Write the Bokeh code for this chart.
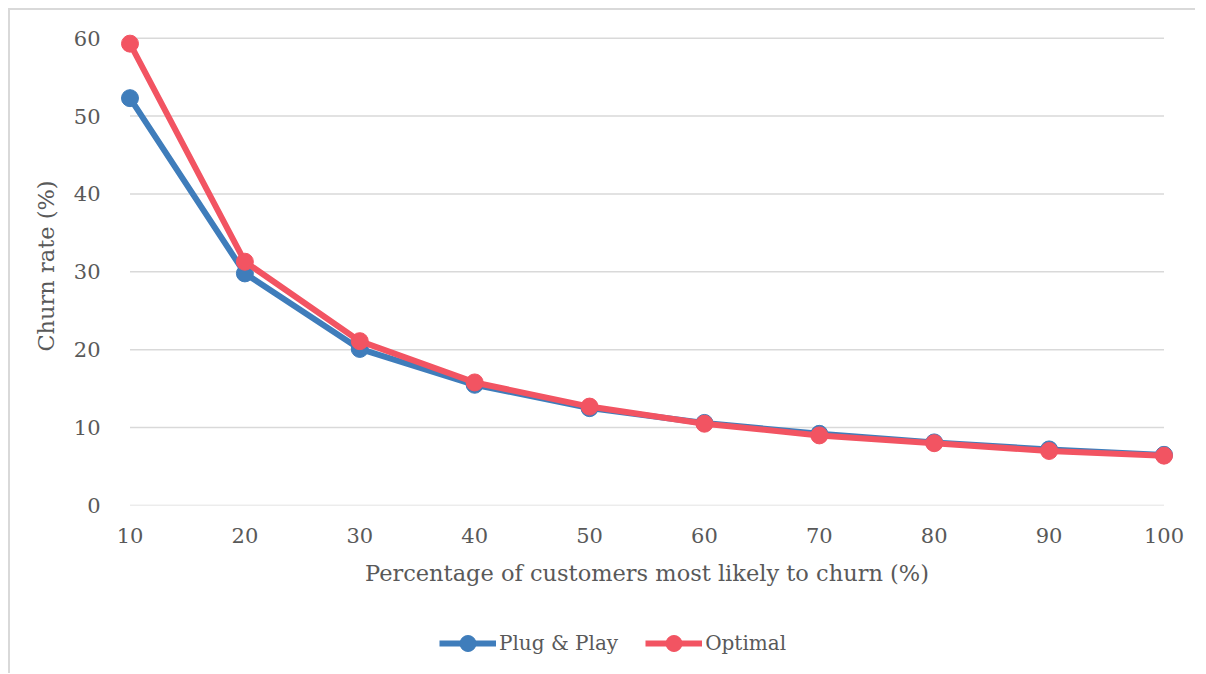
from bokeh.plotting import figure
from bokeh.models import Legend, FixedTicker, Range1d, ColumnDataSource
from bokeh.layouts import column
from bokeh.embed import file_html
from bokeh.resources import INLINE

x_pct = [10, 20, 30, 40, 50, 60, 70, 80, 90, 100]
plug_play = [52.3, 29.8, 20.1, 15.5, 12.5, 10.6, 9.2, 8.1, 7.2, 6.5]
optimal = [59.3, 31.3, 21.1, 15.8, 12.7, 10.5, 9.0, 8.0, 7.0, 6.4]
series_names = ["Plug & Play", "Optimal"]
y_ticks = [0, 10, 20, 30, 40, 50, 60]
x_ticks = [10, 20, 30, 40, 50, 60, 70, 80, 90, 100]

BLUE = "#3F7DBB"
RED = "#F25462"
GRID = "#D9D9D9"
TEXT = "#595959"
FONT = "DejaVu Serif"

p = figure(frame_width=1057, frame_height=479, min_border_left=108, min_border_top=16,
           min_border_right=20, min_border_bottom=100,
           x_range=Range1d(9, 101), y_range=Range1d(0, 61.5),
           output_backend="svg", toolbar_location=None)
p.outline_line_color = None
p.xgrid.visible = False
p.ygrid.visible = False

# gridlines limited to the data extent
gsrc = ColumnDataSource(dict(x0=[x_ticks[0]] * len(y_ticks), x1=[x_ticks[-1]] * len(y_ticks), y=y_ticks))
p.segment(x0="x0", y0="y", x1="x1", y1="y", source=gsrc, line_color=GRID, line_width=1.5)

p.line(x_pct, plug_play, line_color=BLUE, line_width=6)
p.scatter(x_pct, plug_play, size=17, fill_color=BLUE, line_color=BLUE)
p.line(x_pct, optimal, line_color=RED, line_width=6)
p.scatter(x_pct, optimal, size=17, fill_color=RED, line_color=RED)

for ax in (p.xaxis[0], p.yaxis[0]):
    ax.axis_line_color = None
    ax.major_tick_line_color = None
    ax.minor_tick_line_color = None
    ax.major_label_text_font = FONT
    ax.major_label_text_font_size = "21px"
    ax.major_label_text_color = TEXT
    ax.axis_label_text_font = FONT
    ax.axis_label_text_font_size = "22.5px"
    ax.axis_label_text_font_style = "normal"
    ax.axis_label_text_color = TEXT

p.xaxis.ticker = FixedTicker(ticks=x_ticks)
p.yaxis.ticker = FixedTicker(ticks=y_ticks)
p.xaxis.bounds = (10, 100)
p.yaxis.bounds = (0, 60)
p.xaxis.axis_label = "Percentage of customers most likely to churn (%)"
p.yaxis.axis_label = "Churn rate (%)"
p.xaxis.major_label_standoff = 16
p.xaxis.axis_label_standoff = 14
p.yaxis.major_label_standoff = 12
p.yaxis.axis_label_standoff = 12

# legend strip below the chart (proxy renderers sit outside its visible range)
q = figure(frame_width=1185, frame_height=68, min_border=0,
           x_range=Range1d(0, 1), y_range=Range1d(0, 1),
           output_backend="svg", toolbar_location=None)
q.axis.visible = False
q.grid.visible = False
q.outline_line_color = None
proxy = ColumnDataSource(dict(x=[-5.0, -4.0], y=[-5.0, -4.0]))
l1 = q.line("x", "y", source=proxy, line_color=BLUE, line_width=6)
m1 = q.scatter("x", "y", source=proxy, size=17, fill_color=BLUE, line_color=BLUE)
l2 = q.line("x", "y", source=proxy, line_color=RED, line_width=6)
m2 = q.scatter("x", "y", source=proxy, size=17, fill_color=RED, line_color=RED)
legend = Legend(items=[(series_names[0], [l1, m1]), (series_names[1], [l2, m2])],
                orientation="horizontal", location=(429, 10),
                label_text_font=FONT, label_text_font_size="20px", label_text_color=TEXT,
                glyph_width=57, glyph_height=40, label_standoff=3, spacing=27,
                border_line_color=None, background_fill_alpha=0, margin=0, padding=4)
q.add_layout(legend, "center")

layout = column(p, q, spacing=0)
layout.styles = {"margin-left": "8px", "margin-top": "8px",
                 "border-top": "2px solid #D9D9D9", "border-left": "2px solid #D9D9D9"}

open("out.html", "w").write(file_html(layout, INLINE))
